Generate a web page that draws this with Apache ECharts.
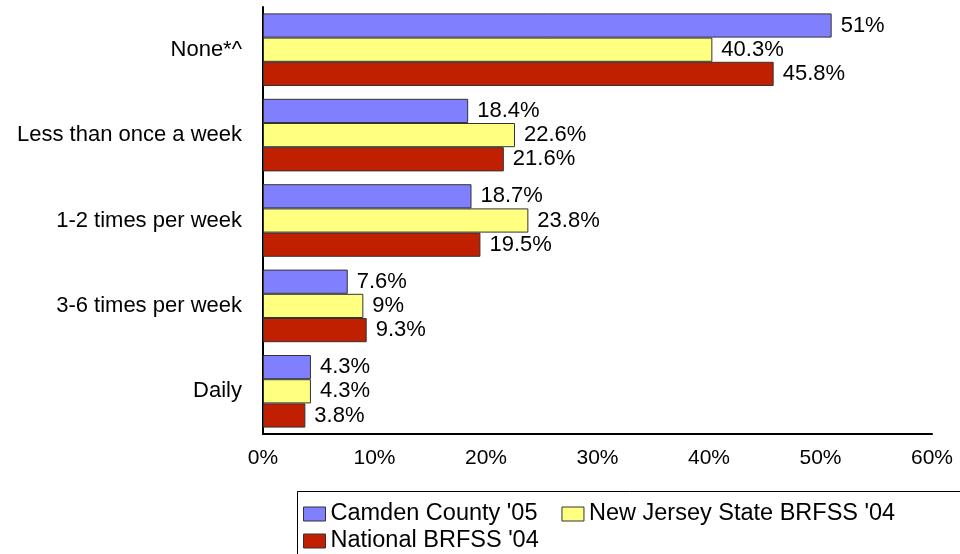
<!DOCTYPE html>
<html><head><meta charset="utf-8">
<script src="https://cdn.jsdelivr.net/npm/echarts@6/dist/echarts.min.js"></script>
<style>html,body{margin:0;padding:0;background:#fff}#c{width:960px;height:554px}</style>
</head><body><div id="c"></div>
<script>
var categories = ["None*^", "Less than once a week", "1-2 times per week", "3-6 times per week", "Daily"];
var seriesNames = ["Camden County '05", "New Jersey State BRFSS '04", "National BRFSS '04"];
var camden = [51, 18.4, 18.7, 7.6, 4.3];
var newJersey = [40.3, 22.6, 23.8, 9, 4.3];
var national = [45.8, 21.6, 19.5, 9.3, 3.8];
var xTicks = [0, 10, 20, 30, 40, 50, 60];
var colors = ["#8080ff", "#ffff80", "#c02000"];
var font = "Liberation Sans, Arial, sans-serif";
var chart = echarts.init(document.getElementById('c'));
function mk(name, data, color) {
  return {
    name: name, type: 'bar', data: data, barGap: '0%', barCategoryGap: '15%',
    itemStyle: { color: color, borderColor: '#333', borderWidth: 1 },
    label: { show: true, position: 'right', distance: 9, color: '#000', fontFamily: font, fontSize: 22,
      formatter: function (p) { return p.value + '%'; } }
  };
}
function lg(top, names) {
  return {
    left: 303, top: top, itemWidth: 22, itemHeight: 14, itemGap: 24, padding: 0,
    icon: 'rect', selectedMode: false, orient: 'horizontal',
    textStyle: { color: '#000', fontSize: 23.5, fontFamily: font },
    itemStyle: { borderColor: '#333', borderWidth: 1 },
    data: names
  };
}
chart.setOption({
  animation: false,
  textStyle: { fontFamily: font },
  grid: { left: 263, right: 28, top: 7, bottom: 120 },
  xAxis: {
    type: 'value', min: xTicks[0], max: xTicks[xTicks.length - 1], interval: 10,
    axisLine: { show: true, lineStyle: { color: '#000', width: 2 } },
    axisTick: { show: false }, splitLine: { show: false },
    axisLabel: { color: '#000', fontSize: 21, fontFamily: font, margin: 14, formatter: '{value}%' }
  },
  yAxis: {
    type: 'category', data: categories, inverse: true,
    axisLine: { show: true, lineStyle: { color: '#000', width: 2 } },
    axisTick: { show: false },
    axisLabel: { color: '#000', fontSize: 22, fontFamily: font, margin: 21 }
  },
  legend: [lg(502, seriesNames.slice(0, 2)), lg(529, seriesNames.slice(2))],
  graphic: [{
    type: 'rect', left: 295, top: 489, shape: { width: 700, height: 100 },
    style: { fill: 'none', stroke: '#000', lineWidth: 1 }, silent: true
  }],
  series: [mk(seriesNames[0], camden, colors[0]), mk(seriesNames[1], newJersey, colors[1]), mk(seriesNames[2], national, colors[2])]
});
</script></body></html>
